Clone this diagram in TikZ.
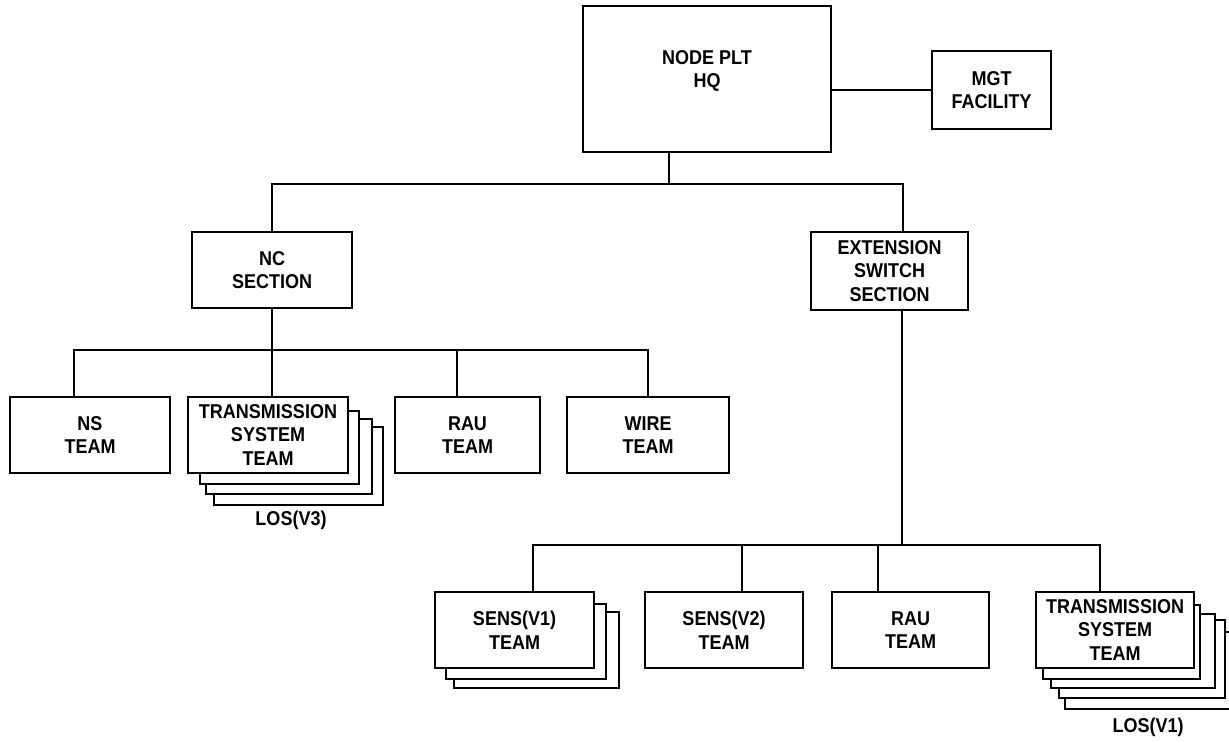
\documentclass[tikz,border=0pt]{standalone}
\usepackage{fontspec}
\setmainfont{Liberation Sans}[FakeStretch=0.9]
\usetikzlibrary{calc,backgrounds}

% one card of a stacked (multi-team) box, drawn behind the front box
\newcommand\stackcard[5]{%
  \draw[boxline,fill=white] ($(#1.north west)+(#2,#3)$) rectangle ($(#1.south east)+(#4,#5)$);}

\begin{document}
\begin{tikzpicture}[x=1pt,y=-1pt,
  boxline/.style={line width=2.2pt,line join=miter},
  box/.style={boxline,draw,fill=white,align=center,inner sep=0pt,
    font=\bfseries\fontsize{20}{23.5}\selectfont},
  wire/.style={line width=2.2pt},
  lbl/.style={font=\bfseries\fontsize{20}{23.5}\selectfont,inner sep=0pt}]
\useasboundingbox (0,0) rectangle (1229,742);
\clip (0,0) rectangle (1229,742);

% headquarters and management facility
\node[box,minimum width=248,minimum height=146] (hq) at (707,79) {};
\node[lbl,align=center] (hqtext) at (707,71) {NODE PLT\\HQ};
\node[box,minimum width=119,minimum height=78] (mgt) at (991.5,90) {MGT\\FACILITY};

% sections
\node[box,minimum width=160,minimum height=76] (nc) at (272,270) {NC\\SECTION};
\node[box,minimum width=157,minimum height=78] (ext) at (889.5,271) {EXTENSION\\SWITCH\\SECTION};

% teams under the NC section
\node[box,minimum width=160,minimum height=76] (ns) at (90,435) {NS\\TEAM};
\node[box,minimum width=160,minimum height=76] (tsa) at (268,435) {TRANSMISSION\\SYSTEM\\TEAM};
\node[box,minimum width=145,minimum height=76] (raua) at (467.5,435) {RAU\\TEAM};
\node[box,minimum width=162,minimum height=76] (wirebox) at (648,435) {WIRE\\TEAM};

% teams under the extension switch section
\node[box,minimum width=159,minimum height=76] (sena) at (514.5,630) {SENS(V1)\\TEAM};
\node[box,minimum width=158,minimum height=76] (senb) at (724,630) {SENS(V2)\\TEAM};
\node[box,minimum width=157,minimum height=76] (raub) at (910.5,630) {RAU\\TEAM};
\node[box,minimum width=158,minimum height=76] (tsb) at (1115,630) {TRANSMISSION\\SYSTEM\\TEAM};

\node[lbl] (los3) at (291,520) {LOS(V3)};
\node[lbl] (los1) at (1148,727) {LOS(V1)};

% stacked cards behind the multi-team boxes
\begin{scope}[on background layer]
  \stackcard{tsa}{27}{31}{34}{31}
  \stackcard{tsa}{19}{23}{23}{20}
  \stackcard{tsa}{13}{15}{10}{10}
  \stackcard{sena}{20}{21}{24}{19}
  \stackcard{sena}{12}{13}{11}{10}
  \stackcard{tsb}{30}{41}{41}{40}
  \stackcard{tsb}{24}{29}{30}{29}
  \stackcard{tsb}{16}{23}{20}{19}
  \stackcard{tsb}{8}{14}{5}{10}
\end{scope}

% junction points of the tree
\coordinate (t0) at (669,184);
\coordinate (ta) at (903,184);
\coordinate (d1) at (74,350);
\coordinate (d2) at (272,350);
\coordinate (d3) at (457,350);
\coordinate (d4) at (648,350);
\coordinate (e0) at (902,545);
\coordinate (e1) at (533,545);
\coordinate (e2) at (742,545);
\coordinate (e3) at (878,545);
\coordinate (e4) at (1100,545);

% connectors
\draw[wire] (mgt.west) -- (mgt.west -| hq.east);
\draw[wire] (hq.south -| t0) -- (t0);
\draw[wire] (nc.north) -- (nc.north |- t0) -- (ta) -- (ta |- ext.north);

\draw[wire] (nc.south) -- (nc.south |- d2);
\draw[wire] (d1 |- ns.north) -- (d1) -- (d4) -- (d4 |- wirebox.north);
\draw[wire] (d2) -- (d2 |- tsa.north);
\draw[wire] (d3) -- (d3 |- raua.north);

\draw[wire] (ext.south -| e0) -- (e0);
\draw[wire] (e1 |- sena.north) -- (e1) -- (e4) -- (e4 |- tsb.north);
\draw[wire] (e2) -- (e2 |- senb.north);
\draw[wire] (e3) -- (e3 |- raub.north);
\end{tikzpicture}
\end{document}
